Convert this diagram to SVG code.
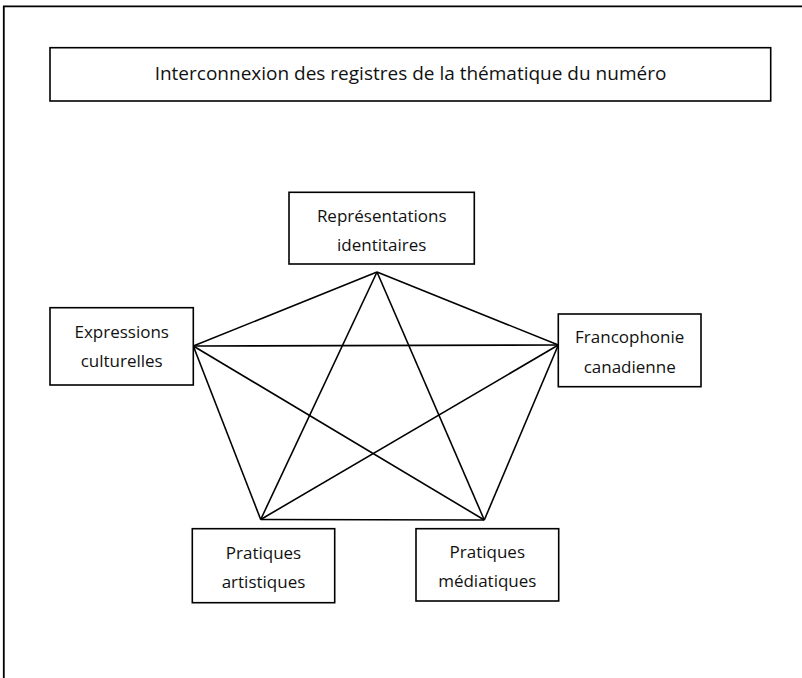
<svg xmlns="http://www.w3.org/2000/svg" width="802" height="678" viewBox="0 0 802 678">
<style>
.box{fill:#fff;stroke:#000;stroke-width:1.6}
.t{font-family:"Open Sans","Noto Sans",sans-serif;font-size:17px;fill:#111;text-anchor:middle}
.tt{font-family:"Open Sans","Noto Sans",sans-serif;font-size:19px;fill:#111;text-anchor:middle}
.c{stroke:#000;stroke-width:1.6;fill:none}
</style>
<rect width="802" height="678" fill="#fff"/>
<path d="M3.8,678 V6.3 H802" fill="none" stroke="#000" stroke-width="1.8"/>
<g id="title">
<rect class="box" x="50" y="47.7" width="720.7" height="53.3"/>
<text class="tt" x="410.5" y="80">Interconnexion des registres de la thématique du numéro</text>
</g>
<g id="connectors">
<line class="c" x1="377" y1="272" x2="193.3" y2="346"/>
<line class="c" x1="377" y1="272" x2="558.3" y2="345"/>
<line class="c" x1="377" y1="272" x2="260.7" y2="519.5"/>
<line class="c" x1="377" y1="272" x2="484.3" y2="520"/>
<line class="c" x1="193.3" y1="346" x2="558.3" y2="345"/>
<line class="c" x1="193.3" y1="346" x2="260.7" y2="519.5"/>
<line class="c" x1="193.3" y1="346" x2="484.3" y2="520"/>
<line class="c" x1="558.3" y1="345" x2="260.7" y2="519.5"/>
<line class="c" x1="558.3" y1="345" x2="484.3" y2="520"/>
<line class="c" x1="260.7" y1="519.5" x2="484.3" y2="520"/>
</g>
<g id="representations">
<rect class="box" x="289" y="192.3" width="185.3" height="71.7"/>
<text class="t" x="381.7" y="221.7">Représentations</text>
<text class="t" x="381.7" y="250.7">identitaires</text>
</g>
<g id="expressions">
<rect class="box" x="50" y="307.7" width="143.3" height="77.3"/>
<text class="t" x="121.7" y="337.7">Expressions</text>
<text class="t" x="121.7" y="366.7">culturelles</text>
</g>
<g id="francophonie">
<rect class="box" x="558.3" y="314" width="142.7" height="72.7"/>
<text class="t" x="629.7" y="343">Francophonie</text>
<text class="t" x="629.7" y="372.7">canadienne</text>
</g>
<g id="artistiques">
<rect class="box" x="192.3" y="528.7" width="142.4" height="74"/>
<text class="t" x="263.5" y="558.7">Pratiques</text>
<text class="t" x="263.5" y="587.7">artistiques</text>
</g>
<g id="mediatiques">
<rect class="box" x="416" y="528.7" width="142.7" height="72.3"/>
<text class="t" x="487.3" y="558.3">Pratiques</text>
<text class="t" x="487.3" y="587.3">médiatiques</text>
</g>
</svg>
